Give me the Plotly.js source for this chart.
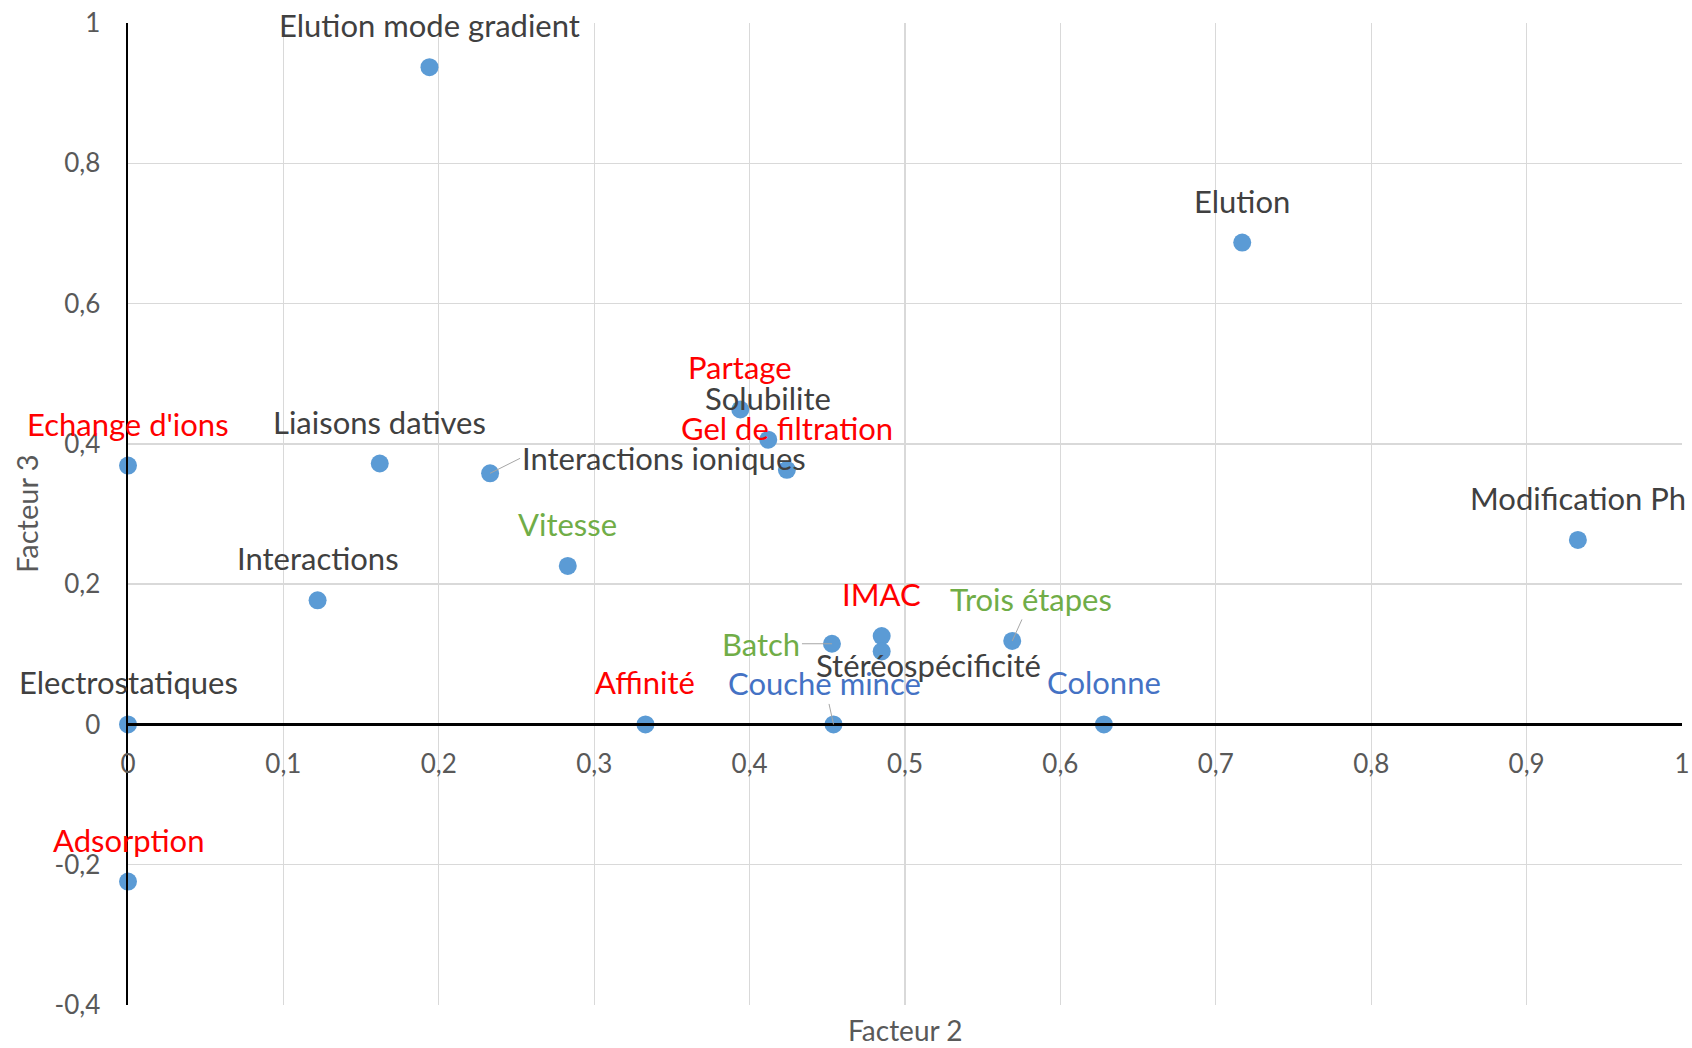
<!DOCTYPE html>
<html>
<head>
<meta charset="utf-8">
<script src="https://cdn.plot.ly/plotly-3.0.1.min.js"></script>
<style>html,body{margin:0;padding:0;background:#fff;}#chart{width:1692px;height:1048px;}</style>
</head>
<body>
<div id="chart"></div>
<script>
// ---- data ----
const termes = ["Elution mode gradient","Elution","Partage","Solubilite","Gel de filtration","Interactions ioniques","Liaisons datives","Echange d'ions","Interactions","Vitesse","Modification Ph","IMAC","Trois étapes","Batch","Stéréospécificité","Electrostatiques","Affinité","Couche mince","Colonne","Adsorption"];
const facteur2 = [0.194,0.717,0.394,0.412,0.424,0.233,0.162,0,0.122,0.283,0.933,0.485,0.569,0.453,0.485,0,0.333,0.454,0.628,0];
const facteur3 = [0.937,0.687,0.449,0.406,0.363,0.358,0.372,0.369,0.177,0.226,0.263,0.126,0.119,0.115,0.104,0,0,0,0,-0.224];
const xTickVals = [0,0.1,0.2,0.3,0.4,0.5,0.6,0.7,0.8,0.9,1];
const xTickText = ["0","0,1","0,2","0,3","0,4","0,5","0,6","0,7","0,8","0,9","1"];
const yTickVals = [-0.4,-0.2,0,0.2,0.4,0.6,0.8,1];
const yTickText = ["-0,4","-0,2","0","0,2","0,4","0,6","0,8","1"];
const xTitle = "Facteur 2";
const yTitle = "Facteur 3";

// ---- styles ----
const FONT = "Lato, 'Open Sans', sans-serif";
const labelColor = {
  "Echange d'ions":"#FF0000","Partage":"#FF0000","Gel de filtration":"#FF0000","IMAC":"#FF0000","Affinité":"#FF0000","Adsorption":"#FF0000",
  "Vitesse":"#70AD47","Batch":"#70AD47","Trois étapes":"#70AD47",
  "Couche mince":"#4472C4","Colonne":"#4472C4"
};
const defaultLabel = {xshift:0, yshift:42};
const specialLabel = {
  "Interactions ioniques":{arrow:true, ax:30, ay:-15, xanchor:"left"},
  "Couche mince":{arrow:true, ax:-9, ay:-41},
  "Batch":{arrow:true, ax:-30, ay:0, xanchor:"right"},
  "Trois étapes":{arrow:true, ax:19, ay:-42},
  "Stéréospécificité":{xshift:47, yshift:-14}
};

const annotations = termes.map((t,i)=>{
  const s = specialLabel[t] || defaultLabel;
  const base = {
    x: facteur2[i], y: facteur3[i], xref:"x", yref:"y", text: t,
    font:{family:FONT, size:31, color: labelColor[t] || "#404040"}
  };
  if (s.arrow) {
    return Object.assign(base, {showarrow:true, ax:s.ax, ay:s.ay, axref:"pixel", ayref:"pixel",
      arrowhead:0, arrowwidth:1, arrowcolor:"#A6A6A6", standoff:0, startstandoff:0,
      xanchor: s.xanchor || "center", yanchor:"middle"});
  }
  return Object.assign(base, {showarrow:false, xshift:s.xshift, yshift:s.yshift, xanchor:"center", yanchor:"middle"});
});
annotations.push({xref:"paper", yref:"paper", x:0.5, y:0, yshift:-25, showarrow:false, text:xTitle,
  font:{family:FONT, size:28, color:"#595959"}, xanchor:"center", yanchor:"middle"});
annotations.push({xref:"paper", yref:"paper", x:0, y:0.5, xshift:-102, showarrow:false, text:yTitle, textangle:-90,
  font:{family:FONT, size:29, color:"#595959"}, xanchor:"center", yanchor:"middle"});

const trace = {
  type:"scatter", mode:"markers", x:facteur2, y:facteur3, text:termes,
  marker:{color:"#5B9BD5", size:18}, hoverinfo:"text", cliponaxis:false
};

const layout = {
  width:1692, height:1048,
  margin:{l:128, r:10, t:23, b:43},
  paper_bgcolor:"#fff", plot_bgcolor:"#fff",
  showlegend:false,
  xaxis:{range:[0,1], tickvals:xTickVals, ticktext:xTickText, showgrid:true, gridcolor:"#D9D9D9", gridwidth:1.3,
    zeroline:false, showline:true, linecolor:"#000", linewidth:2.5, anchor:"free", position:0.4/1.4,
    ticks:"", ticklabelstandoff:16, tickfont:{family:FONT, size:26, color:"#595959"}},
  yaxis:{range:[-0.4,1], tickvals:yTickVals, ticktext:yTickText, showgrid:true, gridcolor:"#D9D9D9", gridwidth:1.3,
    zeroline:false, showline:true, linecolor:"#000", linewidth:2.5,
    ticks:"", ticklabelstandoff:20, tickfont:{family:FONT, size:26, color:"#595959"}},
  annotations: annotations
};

Plotly.newPlot("chart", [trace], layout, {displayModeBar:false, staticPlot:true});
</script>
</body>
</html>
